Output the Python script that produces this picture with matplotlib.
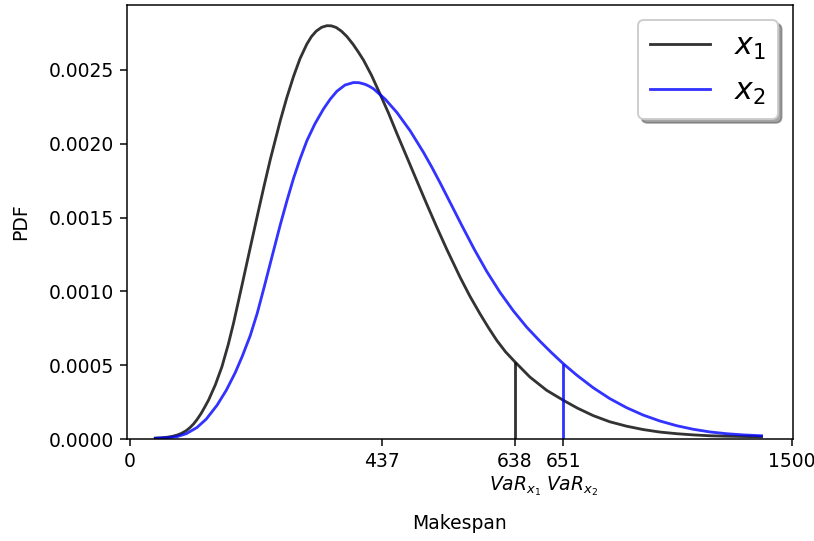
import matplotlib
matplotlib.use("Agg")
import matplotlib.pyplot as plt

# curve points (x in axis units, pdf values in 1e-3)
x1 = [58.2, 72.0, 85.0, 97.0, 108.0, 118.0, 128.4, 137.0, 144.9, 153.0,
      162.4, 170.0, 178.9, 194.1, 209.2, 223.5, 235.5, 254.5, 273.3, 292.1,
      305.0, 318.6, 341.3, 356.0, 371.4, 386.0, 401.7, 412.0, 422.8, 435.0,
      447.0, 457.0, 468.0, 480.0, 492.3, 506.6, 518.0, 530.0, 548.0, 568.0,
      587.0, 605.5, 627.0, 651.0, 673.0, 696.0, 719.0, 749.0, 771.0, 794.0,
      813.0, 832.0, 852.0, 873.4, 907.0, 945.0, 983.0, 1015.0, 1051.0,
      1088.0, 1126.0, 1164.0, 1202.0, 1240.0, 1277.0, 1315.0, 1353.0,
      1392.0, 1432.1]
pdf1 = [0.006, 0.008, 0.012, 0.018, 0.027, 0.039, 0.057, 0.078, 0.102, 0.133,
        0.175, 0.215, 0.264, 0.366, 0.490, 0.640, 0.785, 1.040, 1.295, 1.548,
        1.718, 1.891, 2.155, 2.310, 2.455, 2.575, 2.675, 2.725, 2.762, 2.788,
        2.799, 2.798, 2.787, 2.762, 2.726, 2.672, 2.622, 2.566, 2.464, 2.333,
        2.205, 2.070, 1.918, 1.748, 1.593, 1.435, 1.283, 1.095, 0.968, 0.848,
        0.755, 0.668, 0.590, 0.522, 0.420, 0.330, 0.262, 0.209, 0.158,
        0.117, 0.087, 0.064, 0.047, 0.036, 0.028, 0.022, 0.019,
        0.017, 0.0156]

x2 = [58.2, 85.0, 107.3, 128.4, 152.6, 173.7, 197.9, 219.0, 239.4, 255.2,
      273.3, 289.2, 305.0, 323.1, 341.3, 357.1, 371.4, 386.0, 401.7, 420.0,
      439.3, 455.0, 469.7, 488.0, 507.2, 520.0, 533.7, 543.0, 552.5, 579.0,
      605.5, 635.6, 665.8, 685.0, 703.6, 728.0, 753.4, 781.0, 809.3, 839.0,
      869.6, 900.0, 930.0, 956.0, 982.8, 1013.1, 1050.7, 1088.0, 1126.4,
      1164.0, 1201.8, 1240.0, 1277.2, 1315.0, 1352.8, 1390.0, 1432.1]
pdf2 = [0.005, 0.009, 0.016, 0.036, 0.078, 0.135, 0.228, 0.330, 0.450, 0.560,
        0.700, 0.852, 1.030, 1.240, 1.450, 1.620, 1.765, 1.895, 2.020, 2.135,
        2.235, 2.303, 2.355, 2.397, 2.414, 2.413, 2.402, 2.389, 2.372, 2.302,
        2.212, 2.088, 1.942, 1.840, 1.735, 1.592, 1.443, 1.285, 1.135, 0.995,
        0.868, 0.757, 0.662, 0.585, 0.510, 0.433, 0.347, 0.274, 0.212,
        0.162, 0.122, 0.090, 0.066, 0.048, 0.036, 0.028, 0.022]

pdf1 = [v * 1e-3 for v in pdf1]
pdf2 = [v * 1e-3 for v in pdf2]

var_x = [873.4, 982.8]
var_pdf = [0.000522, 0.000510]
var_names = ["$VaR_{x_1}$", "$VaR_{x_2}$"]

tick_pos = [0, 572, 873.4, 982.8, 1500]
tick_labels = ["0", "437", "638", "651", "1500"]

fig = plt.figure(figsize=(814 / 135, 541 / 135), dpi=135)
ax = fig.add_subplot(111)
fig.subplots_adjust(left=0.156, right=0.974, top=0.991, bottom=0.1885)

ax.plot(x1, pdf1, color="black", alpha=0.8, label="$x_1$",
        solid_joinstyle="round")
ax.plot(x2, pdf2, color="blue", alpha=0.8, label="$x_2$",
        solid_joinstyle="round")
ax.vlines(var_x[0], 0, var_pdf[0], color="black", alpha=0.8, lw=1.5)
ax.vlines(var_x[1], 0, var_pdf[1], color="blue", alpha=0.8, lw=1.5)

ax.set_xticks(tick_pos)
ax.set_xticklabels(tick_labels)
ax.set_xlim(-6, 1503)
ax.set_ylim(0, 0.00294)

# second row of labels under the VaR ticks
ax.annotate(var_names[0], xy=(var_x[0], 0), xycoords=("data", "axes fraction"),
            xytext=(0, -19), textcoords="offset points", ha="center", va="top")
ax.annotate(var_names[1], xy=(var_x[1], 0), xycoords=("data", "axes fraction"),
            xytext=(-9, -19), textcoords="offset points", ha="left", va="top")

ax.set_xlabel("Makespan")
ax.xaxis.set_label_coords(0.5, -0.172)
ax.set_ylabel("PDF", labelpad=10)
ax.legend(loc="upper right", fontsize=16, shadow=True)

fig.savefig("out.png", dpi=135)
